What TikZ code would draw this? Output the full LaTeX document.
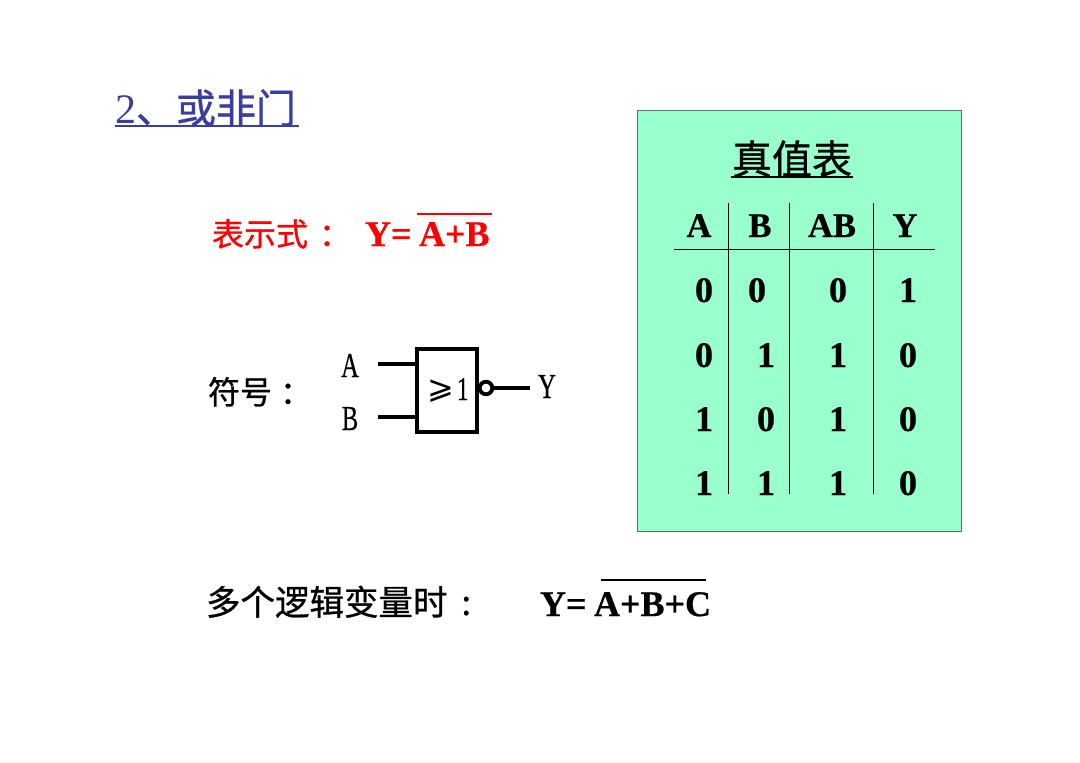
\documentclass[tikz,border=0pt]{standalone}
\usepackage{fontspec}
\setmainfont{Liberation Serif}[BoldFeatures={FakeBold=0.6}]
\newfontfamily\cjk{Noto Sans CJK SC}[FakeBold=0.8]
\newfontfamily\pinfont{Liberation Serif}[FakeStretch=0.7,FakeBold=0.5]
\newfontfamily\sym{DejaVu Sans}
\newcommand{\fs}[1]{\fontsize{#1}{#1}\selectfont}
\definecolor{titleblue}{RGB}{58,62,160}
\definecolor{tablegreen}{RGB}{153,255,204}
\definecolor{boxedge}{RGB}{90,115,105}
\tikzset{
  txt/.style={inner sep=0pt,outer sep=0pt,anchor=base west},
  cell/.style={inner sep=0pt,outer sep=0pt,anchor=base,font=\fs{36}\bfseries},
  headcell/.style={inner sep=0pt,outer sep=0pt,anchor=base,font=\fs{34.5}\bfseries},
  pin/.style={inner sep=0pt,outer sep=0pt,anchor=base,font=\pinfont\fs{35}},
  rule/.style={line width=0.9pt,black},
  wire/.style={line width=3.4pt,black},
  over/.style={line width=2.6pt}
}
\begin{document}
\begin{tikzpicture}[x=1pt,y=-1pt]
\useasboundingbox (0,0) rectangle (1080,763);
% title
\node[txt,text=titleblue] (title) at (115,123) {\fs{42}2\cjk\fs{40}、或非门};
\coordinate (tl) at (115,126); \coordinate (tr) at (299,126);
\draw[titleblue,line width=2pt] (tl) -- (tr);
% expression
\node[txt,text=red] (expr) at (212,246) {\cjk\fs{32}表示式\hspace{11pt}：};
\node[txt,text=red,font=\fs{36}\bfseries] (eqa) at (365,246) {Y=};
\node[txt,text=red,font=\fs{36}\bfseries] (eqb) at (419,246) {A+B};
\coordinate (o1) at (417,214); \coordinate (o2) at (492,214);
\draw[red,over] (o1) -- (o2);
% symbol
\node[txt] (syml) at (208,404) {\cjk\fs{32}符号\hspace{8pt}：};
\node[pin] (pa) at (350,377) {A};
\node[pin] (pb) at (350,430) {B};
\node[pin] (py) at (547,398) {Y};
\node[draw,line width=3.4pt,minimum width=60pt,minimum height=83pt,inner sep=0pt,outer sep=0pt] (gate) at (447,390.5) {};
\node[txt] (ge) at (427,398) {\sym\fs{32}⩾};
\node[txt] (one) at (457,400) {\pinfont\fs{33}1};
\node[circle,draw,line width=3.8pt,minimum size=12.6pt,inner sep=0pt,outer sep=0pt] (bub) at (486,388) {};
\coordinate (a0) at (378,364); \coordinate (a1) at (416,364);
\coordinate (b0) at (378,417); \coordinate (b1) at (416,417);
\coordinate (y1) at (530,388);
\draw[wire] (a0) -- (a1);
\draw[wire] (b0) -- (b1);
\draw[wire] (bub) -- (y1);
% many vars
\node[txt] (many) at (206,615) {\cjk\fs{34.5}多个逻辑变量时\hspace{14pt}:};
\node[txt,font=\fs{36}\bfseries] (eqc) at (540,616) {Y=};
\node[txt,font=\fs{36}\bfseries] (eqd) at (594,616) {A+B+C};
\coordinate (o3) at (601,580); \coordinate (o4) at (706,580);
\draw[black,over] (o3) -- (o4);
% truth table
\node[draw=boxedge,fill=tablegreen,line width=1pt,minimum width=324pt,minimum height=421pt,inner sep=0pt,outer sep=0pt] (panel) at (799,320.5) {};
\node[txt] (tt) at (732,174) {\cjk\fs{40}真值表};
\coordinate (ul) at (731,177); \coordinate (ur) at (853,177);
\draw[black,line width=2pt] (ul) -- (ur);
\coordinate (h0) at (674,249); \coordinate (h1) at (935,249);
\draw[rule] (h0) -- (h1);
\foreach \x/\n in {728/c1,789/c2,873/c3}{
  \coordinate (\n t) at (\x,203); \coordinate (\n b) at (\x,494);
  \draw[rule] (\n t) -- (\n b);
}
\node[headcell] (hA) at (699,237) {A};
\node[headcell] (hB) at (760,237) {B};
\node[headcell] (hAB) at (832,237) {AB};
\node[headcell] (hY) at (905,237) {Y};
\node[cell] (r11) at (704,302) {0};
\node[cell] (r12) at (757,302) {0};
\node[cell] (r13) at (838,302) {0};
\node[cell] (r14) at (908,302) {1};
\node[cell] (r21) at (704,367) {0};
\node[cell] (r22) at (766,367) {1};
\node[cell] (r23) at (838,367) {1};
\node[cell] (r24) at (908,367) {0};
\node[cell] (r31) at (704,431) {1};
\node[cell] (r32) at (766,431) {0};
\node[cell] (r33) at (838,431) {1};
\node[cell] (r34) at (908,431) {0};
\node[cell] (r41) at (704,495) {1};
\node[cell] (r42) at (766,495) {1};
\node[cell] (r43) at (838,495) {1};
\node[cell] (r44) at (908,495) {0};
\end{tikzpicture}
\end{document}
